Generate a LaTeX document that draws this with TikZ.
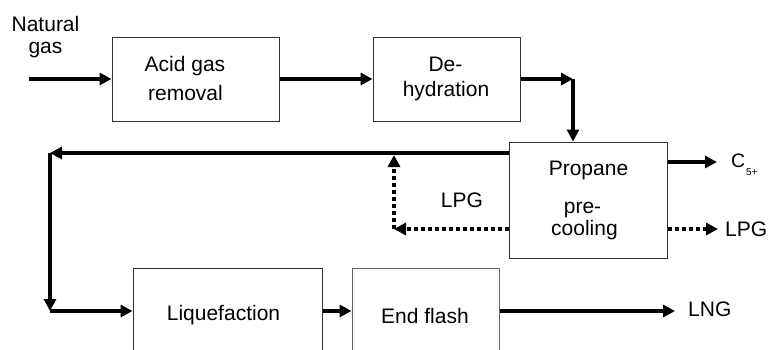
\documentclass[tikz,border=0pt]{standalone}
\usepackage{fontspec}
\setmainfont{Liberation Sans}
\usetikzlibrary{arrows.meta}
\begin{document}
\begin{tikzpicture}[x=1pt,y=-1pt,
  box/.style={draw=black!80,line width=1pt,inner sep=0pt},
  txt/.style={inner sep=0pt,font=\fontsize{21}{26}\selectfont,anchor=base},
  txtl/.style={txt,anchor=base west},
  flow/.style={line width=3.8pt,-{Triangle[length=12pt,width=12pt]}},
  dotflow/.style={flow,dash pattern=on 4pt off 3pt}]
\useasboundingbox (0,0) rectangle (768,349);
% boxes
\node[box,minimum width=167pt,minimum height=84pt] (acid) at (195.5,79) {};
\node[box,minimum width=147pt,minimum height=84pt] (dehyd) at (446.5,79) {};
\node[box,minimum width=158pt,minimum height=116pt] (prop) at (588,200) {};
\node[box,minimum width=189pt,minimum height=100pt] (liq) at (227.5,318) {};
\node[box,draw=black!60,minimum width=147pt,minimum height=100pt] (end) at (425.5,318) {};
% texts
\node[txt] (ng1) at (45.5,31) {Natural};
\node[txt] (ng2) at (45.5,53) {gas};
\node[txt] (acid1) at (185,71) {Acid gas};
\node[txt] (acid2) at (185.5,100) {removal};
\node[txt] (de1) at (445.5,71) {De-};
\node[txt] (de2) at (446,96) {hydration};
\node[txt] (pr1) at (588.5,175) {Propane};
\node[txt] (pr2) at (582.5,213) {pre-};
\node[txt] (pr3) at (584.5,235) {cooling};
\node[txt] (liqT) at (223.5,320) {Liquefaction};
\node[txt] (endT) at (425,323) {End flash};
\node[txt] (lpgL) at (462,207) {LPG};
\node[txtl] (lpgR) at (725,236) {LPG};
\node[txtl] (lngT) at (688,316) {LNG};
\node[txtl,font=\fontsize{19.5}{24}\selectfont] (c5T) at (731,167) {C};
\node[inner sep=0pt,anchor=base west,font=\fontsize{10}{11}\selectfont] (c5s) at (746,175) {5+};
% coordinates
\coordinate (ngin) at (29,79);
\coordinate (c1) at (573,79);
\coordinate (c2) at (50,153);
\coordinate (c3) at (50,311);
\coordinate (lngend) at (675,311);
\coordinate (c5end) at (717,162);
\coordinate (lpgend) at (718,229);
\coordinate (c6) at (394,229);
\coordinate (c7) at (394,155);
% connectors
\draw[flow] (ngin) -- (acid.west);
\draw[flow] (acid.east) -- (dehyd.west);
\draw[flow] (dehyd.east) -- (c1);
\draw[flow] (c1) -- (c1 |- prop.north);
\draw[flow] (prop.west |- c2) -- (c2);
\draw[flow] (c2) -- (c3);
\draw[flow] (c3) -- (liq.west |- c3);
\draw[flow] (liq.east |- c3) -- (end.west |- c3);
\draw[flow] (end.east |- c3) -- (lngend);
\draw[flow] (prop.east |- c5end) -- (c5end);
\draw[dotflow] (prop.east |- lpgend) -- (lpgend);
\draw[dotflow] (prop.west |- c6) -- (c6);
\draw[dotflow] (c6) -- (c7);
\end{tikzpicture}
\end{document}
